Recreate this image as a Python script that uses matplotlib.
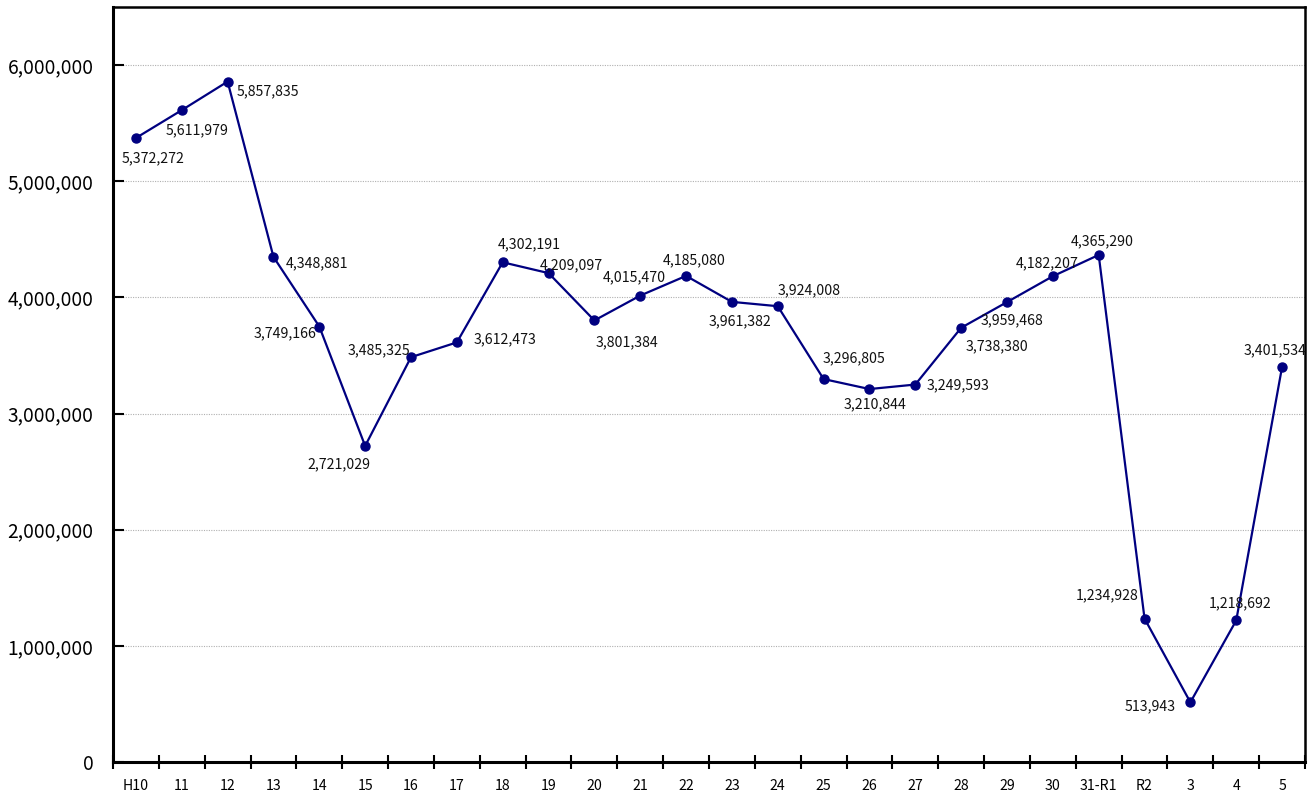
import matplotlib
matplotlib.use("Agg")
import matplotlib.pyplot as plt
from matplotlib.ticker import FuncFormatter, FixedLocator
import numpy as np

plt.rcParams['font.family'] = ['Noto Sans CJK JP', 'DejaVu Sans']

categories = ["H10", "11", "12", "13", "14", "15", "16", "17", "18", "19", "20", "21",
              "22", "23", "24", "25", "26", "27", "28", "29", "30", "31-R1", "R2", "3", "4", "5"]
values = [5372272, 5611979, 5857835, 4348881, 3749166, 2721029, 3485325, 3612473,
          4302191, 4209097, 3801384, 4015470, 4185080, 3961382, 3924008, 3296805,
          3210844, 3249593, 3738380, 3959468, 4182207, 4365290, 1234928, 513943,
          1218692, 3401534]
# label offsets in pixels (dx, dy) relative to the point
offsets = [(17, -20), (15, -20), (40, -10), (44, -6), (-34, -7), (-26, -18), (-32, 7),
           (48, 3), (27, 18), (23, 8), (33, -22), (-6, 18), (8, 16), (8, -19), (31, 16),
           (30, 21), (6, -15), (43, -1), (36, -19), (5, -18), (-6, 13), (4, 14), (-37, 23),
           (-40, -4), (4, 17), (-7, 17)]

fig = plt.figure(figsize=(13.13, 7.93), dpi=100)
ax = fig.add_axes([113/1313, 1-762/793, (1305-113)/1313, (762-7)/793])

x = np.arange(len(categories))
ax.plot(x, values, color='#000080', lw=1.6, marker='o', ms=6.5, zorder=3)

for xi, v, (dx, dy) in zip(x, values, offsets):
    ax.annotate(f"{v:,}", (xi, v), xytext=(dx, dy), textcoords='offset pixels',
                ha='center', va='center', fontsize=10.2, color='#111111')

ax.set_xlim(-0.5, len(categories) - 0.5)
ax.set_ylim(0, 6500000)
ax.yaxis.set_major_locator(FixedLocator(np.arange(0, 6500001, 1000000)))
ax.yaxis.set_major_formatter(FuncFormatter(lambda v, p: f"{int(v):,}"))
ax.set_xticks(x)
ax.set_xticklabels(categories)
ax.xaxis.set_minor_locator(FixedLocator(np.arange(-0.5, len(categories), 1.0)))
ax.tick_params(axis='x', which='major', length=0, pad=12, labelsize=10.2)
ax.tick_params(axis='x', which='minor', direction='inout', length=10, width=1.5)
ax.tick_params(axis='y', which='major', direction='in', length=8, width=1.5, labelsize=13.8, pad=14)

ax.grid(axis='y', which='major', linestyle=(0, (1, 1.2)), color='#b0b0b0', lw=0.8)
ax.set_axisbelow(True)
for s in ['left', 'bottom']:
    ax.spines[s].set_linewidth(2.2)
for s in ['top', 'right']:
    ax.spines[s].set_linewidth(1.8)

fig.savefig("out.png", dpi=100)
